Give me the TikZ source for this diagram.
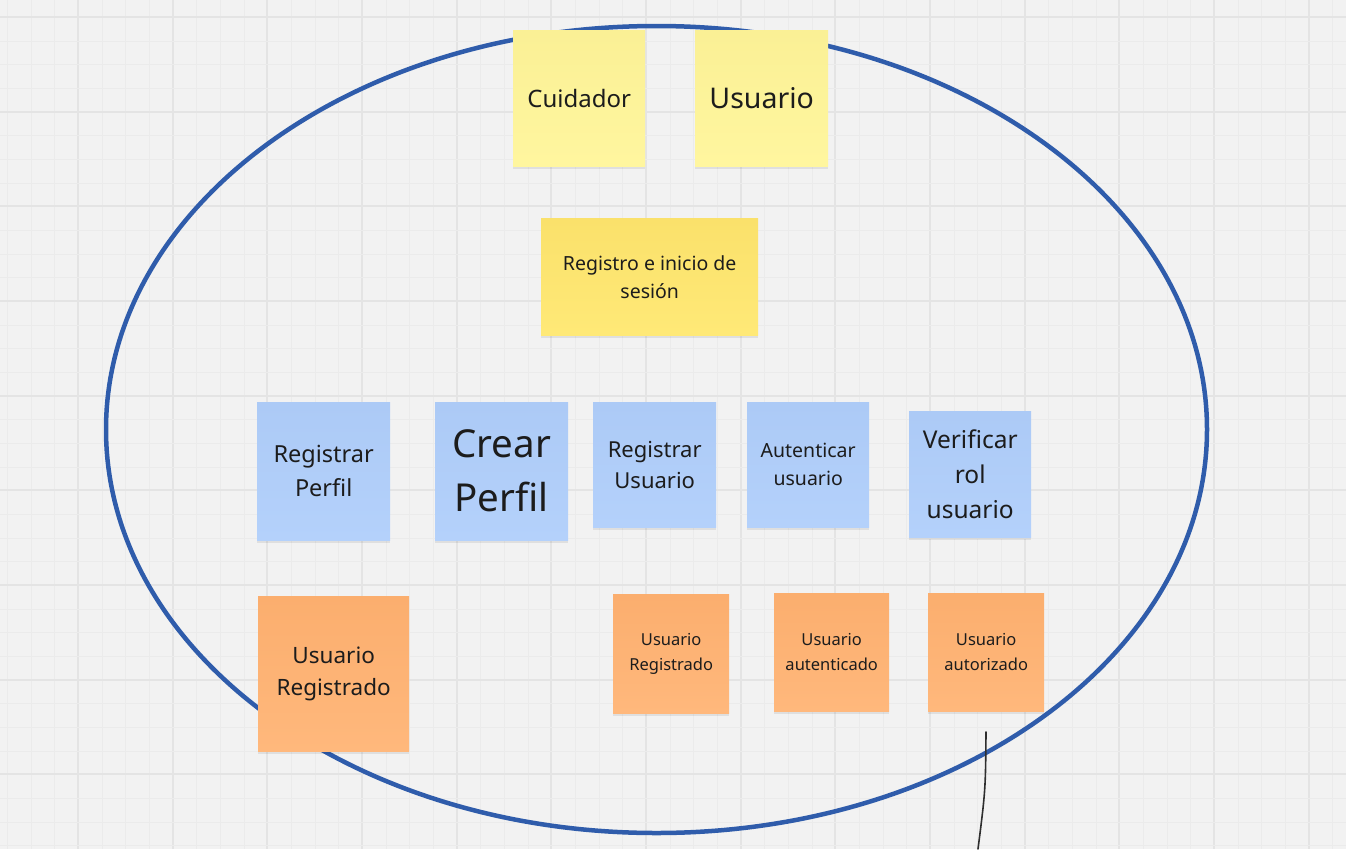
\documentclass[tikz,border=0pt]{standalone}
\usepackage{fontspec}
\setmainfont{Noto Sans}
\usetikzlibrary{shadows}
\definecolor{bg}{HTML}{F2F2F2}
\definecolor{gridminor}{HTML}{EBEBEB}
\definecolor{gridmajor}{HTML}{E4E4E4}
\definecolor{ringblue}{HTML}{2F5CAB}
\definecolor{txt}{HTML}{1C1C1C}
\definecolor{ylwA}{HTML}{FAF095}
\definecolor{ylwB}{HTML}{FFF69F}
\definecolor{goldA}{HTML}{FAE16B}
\definecolor{goldB}{HTML}{FFE977}
\definecolor{bluA}{HTML}{ACCAF6}
\definecolor{bluB}{HTML}{B4D1FB}
\definecolor{orgA}{HTML}{FBAE6E}
\definecolor{orgB}{HTML}{FFB87C}
\newcommand{\fs}[2]{\fontsize{#1}{#2}\selectfont}
\tikzset{
  note/.style={anchor=north west, inner sep=0pt, align=center, text=txt,
    draw=none, drop shadow={shadow xshift=0pt, shadow yshift=-2.5pt, opacity=0.08, fill=black}},
  ylw/.style={note, top color=ylwA, bottom color=ylwB},
  gold/.style={note, top color=goldA, bottom color=goldB},
  blu/.style={note, top color=bluA, bottom color=bluB},
  org/.style={note, top color=orgA, bottom color=orgB},
  gminor/.style={draw=gridminor, line width=0.8pt},
  gmajor/.style={draw=gridmajor, line width=1.1pt},
}
\begin{document}
\begin{tikzpicture}[x=1pt,y=-1pt]
\useasboundingbox (0,0) rectangle (1346,849);
\fill[bg] (0,0) rectangle (1346,849);
% grid
\foreach \i in {-3,...,54}{
  \pgfmathsetmacro\xx{round(78+23.667*\i)}
  \pgfmathtruncatemacro\m{mod(\i+400,4)}
  \ifnum\m=0 \draw[gmajor] (\xx,0) -- (\xx,849); \else \draw[gminor] (\xx,0) -- (\xx,849); \fi
}
\foreach \i in {-1,...,36}{
  \pgfmathsetmacro\yy{round(17+23.667*\i)}
  \pgfmathtruncatemacro\m{mod(\i+400,4)}
  \ifnum\m=0 \draw[gmajor] (0,\yy) -- (1346,\yy); \else \draw[gminor] (0,\yy) -- (1346,\yy); \fi
}
% ring
\draw[ringblue, line width=4.5pt] (656.5,429.5) ellipse [x radius=550.5pt, y radius=403.5pt];
% notes
\node[ylw, minimum width=132pt, minimum height=136pt, font=\fs{24}{30}] (cuid) at (513,30) {Cuidador};
\node[ylw, minimum width=133pt, minimum height=136pt, font=\fs{28.5}{34}] (usu) at (695,30) {Usuario};
\node[gold, minimum width=217pt, minimum height=117pt, font=\fs{19.5}{28}] (reg) at (541,218) {Registro e inicio de\\sesión};
\node[blu, minimum width=133pt, minimum height=138pt, font=\fs{23.5}{34}] (rperf) at (257,402) {Registrar\\Perfil};
\node[blu, minimum width=133pt, minimum height=138pt, font=\fs{38.5}{54}] (cperf) at (435,402) {Crear\\Perfil};
\node[blu, minimum width=123pt, minimum height=125pt, font=\fs{22}{31}] (rusu) at (593,402) {Registrar\\Usuario};
\node[blu, minimum width=122pt, minimum height=125pt, font=\fs{19.5}{28}] (aut) at (747,402) {Autenticar\\usuario};
\node[blu, minimum width=122pt, minimum height=126pt, font=\fs{24.5}{35}] (ver) at (909,411) {Verificar\\rol\\usuario};
\node[org, minimum width=151pt, minimum height=155pt, font=\fs{22.5}{32}] (ureg1) at (258,596) {Usuario\\Registrado};
\node[org, minimum width=116pt, minimum height=119pt, font=\fs{16.5}{25}] (ureg2) at (613,594) {Usuario\\Registrado};
\node[org, minimum width=115pt, minimum height=118pt, font=\fs{16.5}{25}] (uaut) at (774,593) {Usuario\\autenticado};
\node[org, minimum width=116pt, minimum height=118pt, font=\fs{16.5}{25}] (uautz) at (928,593) {Usuario\\autorizado};
% black stroke
\coordinate (lt) at (986,732);
\coordinate (lb) at (978,849);
\draw[black!82, line width=1.6pt, line cap=round] (lt) .. controls (985.5,790) .. (lb);
\end{tikzpicture}
\end{document}
